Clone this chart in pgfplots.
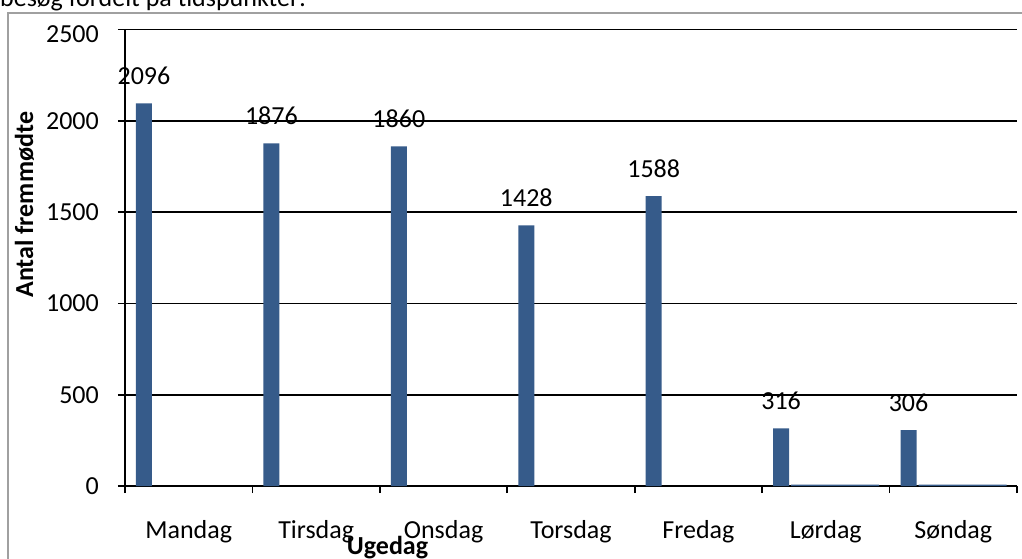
\documentclass[border=0pt]{standalone}
\usepackage{pgfplots}
\pgfplotsset{compat=1.18}
\usepackage{fontspec}
\setmainfont{Carlito}
\definecolor{barblue}{RGB}{54,91,138}
\definecolor{framegray}{RGB}{160,160,160}
\begin{document}
\begin{tikzpicture}[font=\fontsize{26}{31}\selectfont]
\path[use as bounding box] (0pt,0pt) rectangle (1022pt,-559pt);
\clip (0pt,0pt) rectangle (1022pt,-559pt);
\node[anchor=base west,inner sep=0pt] at (0pt,-7pt) {besøg fordelt på tidspunkter:};
\draw[framegray,line width=1.5pt] (8pt,-13pt) rectangle (1040pt,-580pt);
\begin{axis}[
  at={(125pt,-486pt)}, anchor=south west,
  width=892pt, height=456.5pt, scale only axis,
  xmin=0, xmax=7, ymin=0, ymax=2500,
  axis x line*=bottom, axis y line*=left,
  axis line style={line width=1.6pt, black},
  every tick/.style={line width=1.6pt, black},
  tick align=outside, major tick length=7pt,
  xtick={0,1,2,3,4,5,6,7}, xticklabels={},
  ytick={0,500,1000,1500,2000},
  extra y ticks={2500},
  extra y tick style={tick label style={yshift=-5pt}},
  ymajorgrids, grid style={line width=1.6pt, black},
  /pgf/number format/assume math mode=true,
  /pgf/number format/1000 sep={},
  yticklabel style={inner sep=0pt, anchor=east, xshift=-19pt},
  extra x ticks={0.5,1.5,2.5,3.5,4.5,5.5,6.5},
  extra x tick labels={Mandag,Tirsdag,Onsdag,Torsdag,Fredag,Lørdag,Søndag},
  extra x tick style={major tick length=0pt, grid=none,
     tick label style={inner sep=0pt, anchor=north, yshift=-34pt}},
  xlabel={\bfseries Ugedag},
  xlabel style={at={(axis description cs:0.2943,-0.1511)}, anchor=base, inner sep=0pt},
  ylabel={\bfseries Antal fremmødte},
  ylabel style={at={(axis description cs:-0.1031,0.616)}, anchor=base, inner sep=0pt},
  clip=false,
]
\addplot[ybar, bar width=88pt, fill=barblue, draw=none, forget plot]
  coordinates {(5.573,8) (6.573,8)};
\addplot[ybar, bar width=16pt, fill=barblue, draw=none,
  nodes near coords,
  every node near coord/.style={anchor=base, inner sep=0pt, yshift=19pt, black}]
  coordinates {(0.149,2096) (1.149,1876) (2.149,1860) (3.149,1428) (4.149,1588) (5.149,316) (6.149,306)};
\end{axis}
\end{tikzpicture}
\end{document}
